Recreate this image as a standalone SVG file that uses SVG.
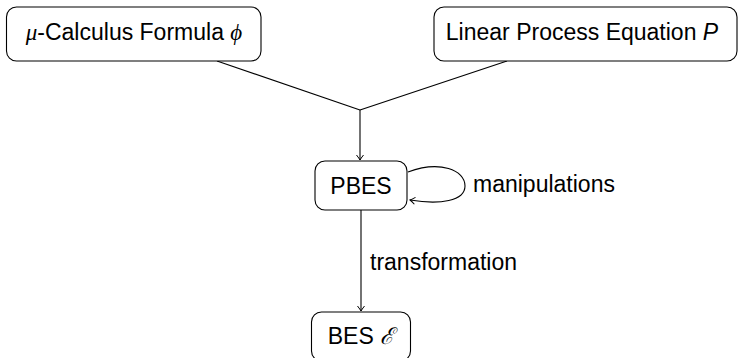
<svg xmlns="http://www.w3.org/2000/svg" width="738" height="358" viewBox="0 0 738 358">
<style>
.box{fill:#fff;stroke:#000;stroke-width:1.1}
.t{font-family:"Liberation Sans",Arial,sans-serif;font-size:23px;fill:#000}
.m{font-family:"Liberation Serif","DejaVu Serif",serif;font-style:italic}
.c{fill:none;stroke:#000;stroke-width:1.1}
</style>
<defs>
<marker id="to" viewBox="-6 -5 8 10" markerWidth="8" markerHeight="10" refX="0" refY="0" orient="auto" markerUnits="userSpaceOnUse">
<path d="M-5,-3.5 Q-1.5,-0.8 0,0 Q-1.5,0.8 -5,3.5" fill="none" stroke="#000" stroke-width="1"/>
</marker>
</defs>
<g id="connectors">
<path class="c" d="M217,61 L360,110"/>
<path class="c" d="M507,61 L360,110"/>
<path class="c" d="M360,110 L360,160" marker-end="url(#to)"/>
<path class="c" d="M408,172 C440,160 465,170 465,186 C465,201 440,205 410,200" marker-end="url(#to)"/>
<path class="c" d="M361,210 L361,311" marker-end="url(#to)"/>
<text class="t" x="473" y="192">manipulations</text>
<text class="t" x="370" y="270">transformation</text>
</g>
<g id="mu">
<rect class="box" x="6.5" y="7" width="254.5" height="54" rx="10"/>
<text class="t" x="134" y="40" text-anchor="middle"><tspan class="m">μ</tspan>-Calculus Formula <tspan class="m">ϕ</tspan></text>
</g>
<g id="lpe">
<rect class="box" x="434" y="7" width="303" height="54" rx="10"/>
<text class="t" x="582" y="40" text-anchor="middle">Linear Process Equation <tspan font-style="italic">P</tspan></text>
</g>
<g id="pbes">
<rect class="box" x="315" y="161" width="92" height="49" rx="10"/>
<text class="t" x="361" y="194" text-anchor="middle">PBES</text>
</g>
<g id="bes">
<rect class="box" x="311.5" y="312" width="99" height="49" rx="10"/>
<text class="t" x="361" y="344" text-anchor="middle">BES <tspan class="m">ℰ</tspan></text>
</g>
</svg>
